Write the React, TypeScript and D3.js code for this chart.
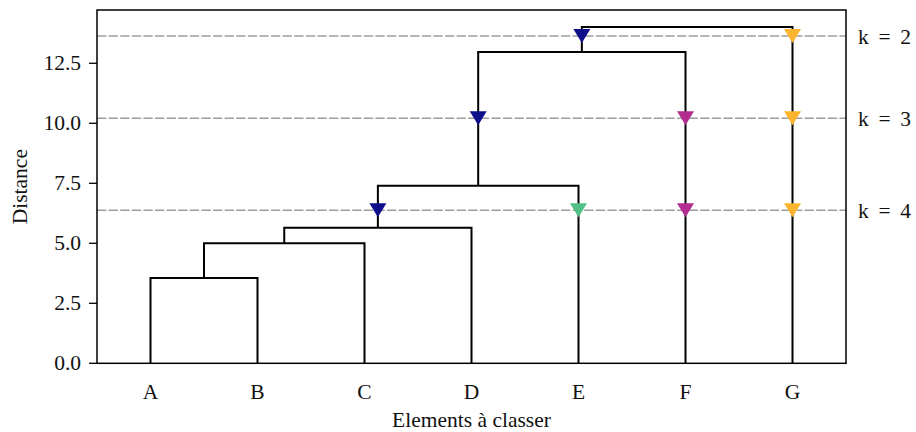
import React from "react";
import * as d3 from "d3";

const leaves = ["A", "B", "C", "D", "E", "F", "G"];
// linkage: [left node, right node, height]; new nodes numbered from leaves.length
const merges: [number, number, number][] = [
  [0, 1, 3.55],
  [7, 2, 5.0],
  [8, 3, 5.65],
  [9, 4, 7.4],
  [10, 5, 12.97],
  [11, 6, 14.01],
];
const cutLabels = ["k = 2", "k = 3", "k = 4"];
const cutHeights = [13.64, 10.21, 6.38];
// colour of a cluster, keyed by its leftmost leaf
const clusterColors: Record<string, string> = {
  A: "#0f0f8c",
  E: "#52bf86",
  F: "#b22d8f",
  G: "#fbb42d",
};
const yTicks = [0, 2.5, 5, 7.5, 10, 12.5];

const W = 916;
const H = 432;
const L = 97;
const R = 846;
const T = 10;
const B = 363.3;
const FONT = "'Liberation Serif', 'Times New Roman', serif";
const FS = 21.5;

export default function App() {
  const x = d3.scaleLinear().domain([0, leaves.length * 10]).range([L, R]);
  const y = d3.scaleLinear().domain([0, 14.72]).range([B, T]);

  type N = { pos: number; h: number; first: number; parentH: number };
  const nodes: N[] = leaves.map((_, i) => ({ pos: 5 + 10 * i, h: 0, first: i, parentH: Infinity }));
  const links: string[] = [];
  merges.forEach(([a, b, h]) => {
    const na = nodes[a];
    const nb = nodes[b];
    na.parentH = h;
    nb.parentH = h;
    const p = d3.path();
    p.moveTo(x(na.pos), y(na.h));
    p.lineTo(x(na.pos), y(h));
    p.lineTo(x(nb.pos), y(h));
    p.lineTo(x(nb.pos), y(nb.h));
    links.push(p.toString());
    nodes.push({ pos: (na.pos + nb.pos) / 2, h, first: Math.min(na.first, nb.first), parentH: Infinity });
  });

  const markers: { cx: number; cy: number; color: string }[] = [];
  cutHeights.forEach((c) => {
    nodes.forEach((n) => {
      if (n.h < c && n.parentH > c) {
        markers.push({ cx: x(n.pos), cy: y(c), color: clusterColors[leaves[n.first]] });
      }
    });
  });

  const tri = (cx: number, cy: number) => {
    const w = 8.5;
    const h = 7;
    return `M${cx - w},${cy - h}L${cx + w},${cy - h}L${cx},${cy + h}Z`;
  };

  return (
    <svg
      width={W}
      height={H}
      style={{ position: "absolute", left: 0, top: 0, background: "#fff" }}
      fontFamily={FONT}
    >
      <rect x={0} y={0} width={W} height={H} fill="#fff" />
      {cutHeights.map((c, i) => (
        <g key={"cut" + i}>
          <line
            x1={L}
            x2={R}
            y1={y(c)}
            y2={y(c)}
            stroke="#9e9e9e"
            strokeWidth={1.5}
            strokeDasharray="9.3,2.3"
          />
          <text x={858} y={y(c) + 8} fontSize={FS} fill="#111" style={{ whiteSpace: "pre" }}>
            {cutLabels[i].replace(/ /g, "\u00a0\u2009")}
          </text>
        </g>
      ))}
      {links.map((d, i) => (
        <path key={"l" + i} d={d} fill="none" stroke="#000" strokeWidth={2} />
      ))}
      {markers.map((m, i) => (
        <path key={"m" + i} d={tri(m.cx, m.cy)} fill={m.color} />
      ))}
      <rect x={L} y={T} width={R - L} height={B - T} fill="none" stroke="#000" strokeWidth={1.5} />
      {yTicks.map((t) => (
        <g key={"yt" + t}>
          <line x1={L - 8} x2={L} y1={y(t)} y2={y(t)} stroke="#000" strokeWidth={1.3} />
          <text x={L - 16} y={y(t) + 7} textAnchor="end" fontSize={FS} fill="#111">
            {d3.format(".1f")(t)}
          </text>
        </g>
      ))}
      {leaves.map((lbl, i) => (
        <text key={"xt" + lbl} x={x(5 + 10 * i)} y={399} textAnchor="middle" fontSize={FS} fill="#111">
          {lbl}
        </text>
      ))}
      <text x={(L + R) / 2} y={427} textAnchor="middle" fontSize={FS} fill="#111">
        Elements à classer
      </text>
      <text
        transform={`translate(27,${(T + B) / 2}) rotate(-90)`}
        textAnchor="middle"
        fontSize={FS}
        fill="#111"
      >
        Distance
      </text>
    </svg>
  );
}
